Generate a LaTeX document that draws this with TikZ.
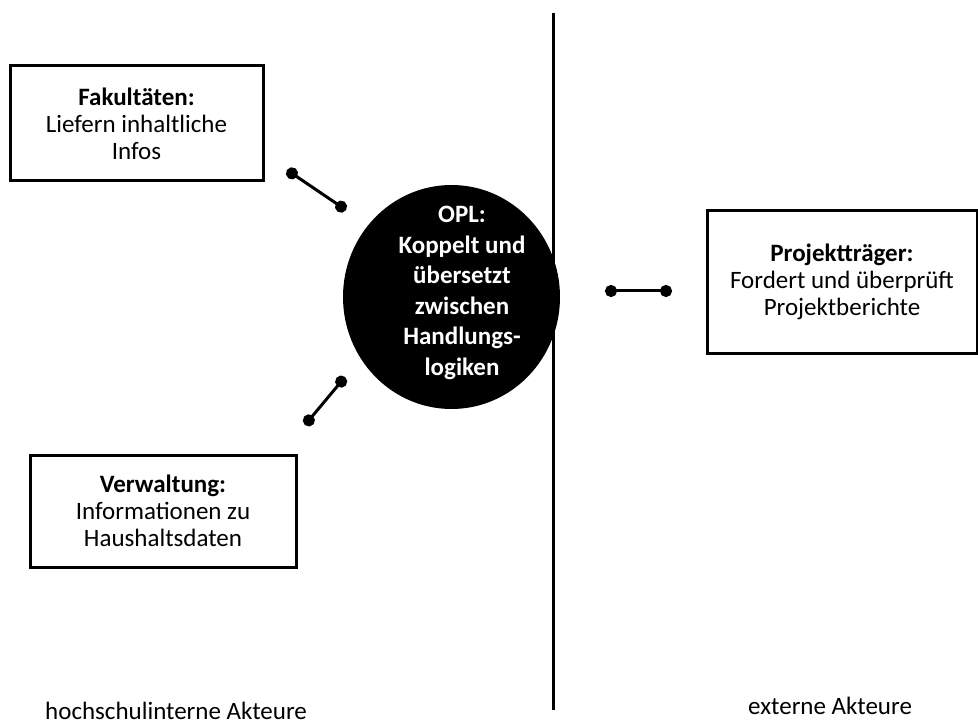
\documentclass[tikz,border=0pt]{standalone}
\usepackage{fontspec}
\setmainfont{Carlito}
\usetikzlibrary{arrows.meta}
\begin{document}
\begin{tikzpicture}[x=1pt,y=-1pt,
  actorbox/.style={draw=black, line width=3pt, align=center, inner sep=0pt,
    font=\fontsize{25}{27}\selectfont},
  opltext/.style={text=white, align=center, inner sep=0pt,
    font=\bfseries\fontsize{25}{30.5}\selectfont},
  conn/.style={line width=3pt, {Circle[length=12pt]}-{Circle[length=12pt]}},
  divider/.style={line width=3pt},
  sidelabel/.style={font=\fontsize{25}{26}\selectfont, inner sep=0pt}]
\useasboundingbox (0,0) rectangle (978,727);
\node[actorbox, minimum width=253pt, minimum height=115pt] (fak) at (136.5,123.5)
  {\textbf{Fakultäten:}\\Liefern inhaltliche\\Infos};
\node[actorbox, minimum width=266pt, minimum height=112pt] (verw) at (163,511)
  {\textbf{Verwaltung:}\\Informationen zu\\Haushaltsdaten};
\node[actorbox, minimum width=270pt, minimum height=143pt] (proj) at (842,282)
  {\textbf{Projektträger:}\\Fordert und überprüft\\Projektberichte};
\coordinate (vt) at (553,13);
\coordinate (vb) at (553,710);
\draw[divider] (vt) -- (vb);
\coordinate (oplc) at (451.5,297);
\fill (oplc) ellipse [x radius=108.5pt, y radius=112pt];
\node[opltext] (opl) at (462,293) {OPL:\\Koppelt und\\übersetzt\\zwischen\\Handlungs-\\logiken};
\coordinate (f1) at (287,170);
\coordinate (f2) at (346,210);
\coordinate (v1) at (345,377);
\coordinate (v2) at (305,425);
\coordinate (p1) at (605,291);
\coordinate (p2) at (672,291);
\draw[conn] (f1) -- (f2);
\draw[conn] (v1) -- (v2);
\draw[conn] (p1) -- (p2);
\node[sidelabel, anchor=base west] (intern) at (45,719) {hochschulinterne Akteure};
\node[sidelabel, anchor=base west] (extern) at (748,714) {externe Akteure};
\end{tikzpicture}
\end{document}
